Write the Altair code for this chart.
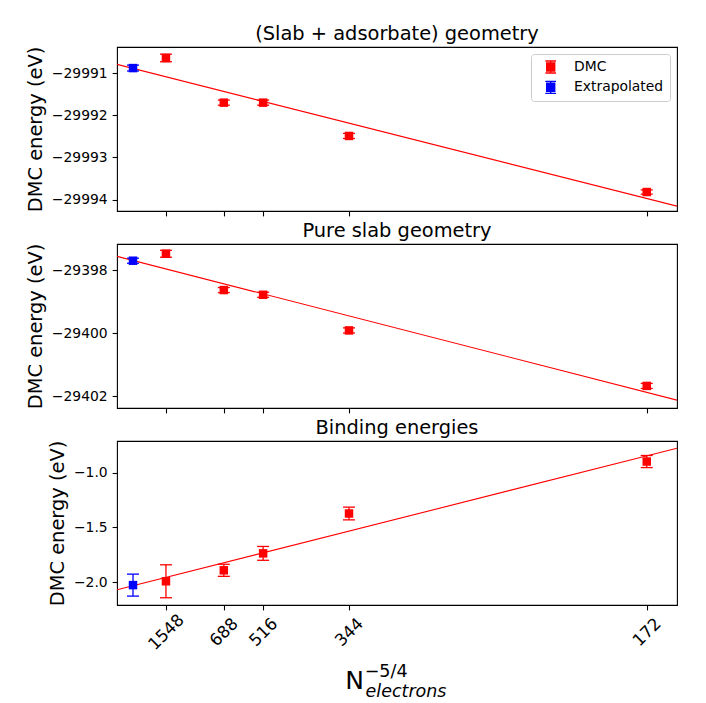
import altair as alt
import pandas as pd

FONT = "DejaVu Sans"

# ---------------- data ----------------
N_ELECTRONS = [1548, 688, 516, 344, 172]
X_DOMAIN = [-0.00005, 0.0017]

TITLES = ["(Slab + adsorbate) geometry", "Pure slab geometry", "Binding energies"]
Y_TITLE = "DMC energy (eV)"
LEGEND_LABELS = ["DMC", "Extrapolated"]
COLORS = ["#ff0000", "#0000ff"]

ADS_DMC = [-29990.64, -29991.70, -29991.70, -29992.49, -29993.82]
ADS_ERR = [0.09, 0.06, 0.06, 0.06, 0.05]
ADS_EXTRAP = -29990.88
ADS_EXTRAP_ERR = 0.07

SLAB_DMC = [-29397.48, -29398.63, -29398.78, -29399.91, -29401.67]
SLAB_ERR = [0.11, 0.08, 0.08, 0.08, 0.08]
SLAB_EXTRAP = -29397.70
SLAB_EXTRAP_ERR = 0.08

BIND_DMC = [-1.99, -1.89, -1.736, -1.373, -0.90]
BIND_ERR = [0.15, 0.055, 0.063, 0.058, 0.055]
BIND_EXTRAP = -2.025
BIND_EXTRAP_ERR = 0.10

Y_DOMAINS = [[-29994.27, -29990.38], [-29402.37, -29397.17], [-2.206, -0.713]]
Y_TICKS = [[-29994, -29993, -29992, -29991], [-29402, -29400, -29398], [-2.0, -1.5, -1.0]]
Y_FORMATS = ["d", "d", ".1f"]

X_LABEL_MAIN = "N"
X_LABEL_SUP = "\u22125/4"
X_LABEL_SUB = "electrons"

# ---------------- helpers ----------------
X_TICKS = [n ** -1.25 for n in N_ELECTRONS]


def panel_frame(dmc, err, ext, ext_err):
    xs = X_TICKS + [0.0]
    ys = list(dmc) + [ext]
    es = list(err) + [ext_err]
    kinds = [LEGEND_LABELS[0]] * len(dmc) + [LEGEND_LABELS[1]]
    return pd.DataFrame({
        "x": xs,
        "y": ys,
        "lo": [y - e for y, e in zip(ys, es)],
        "hi": [y + e for y, e in zip(ys, es)],
        "kind": kinds,
    })


CSCALE = alt.Scale(domain=LEGEND_LABELS, range=COLORS)

# errorbar-style legend glyph built only from filled rectangles
SYMBOL_PATH = ("M0.286,-0.671H1.628V0.671H0.286Z "
               "M0.864,-0.95H1.05V0.95H0.864Z "
               "M0.193,-0.95H1.721V-0.764H0.193Z "
               "M0.193,0.764H1.721V0.95H0.193Z")

LEGEND = alt.Legend(
    title=None, orient="top-right", offset=7, padding=6,
    fillColor="rgba(255,255,255,0.8)", strokeColor="#cccccc", cornerRadius=3,
    symbolType=SYMBOL_PATH, symbolSize=196, symbolStrokeWidth=0, symbolOpacity=1,
    labelFont=FONT, labelFontSize=13.9, labelColor="black", labelOffset=23,
    rowPadding=6.3,
)


def make_panel(df, title, ydomain, yticks, yfmt, bottom=False, legend=None):
    if bottom:
        xaxis = alt.Axis(
            values=X_TICKS, title=None,
            labelExpr="format(round(pow(datum.value, -0.8)), 'd')",
            labelAngle=315, labelAlign="center", labelBaseline="middle",
            labelFontSize=16.7, labelPadding=22, labelOverlap=False, labelFlush=False,
        )
    else:
        xaxis = alt.Axis(values=X_TICKS, title=None, labels=False)
    yaxis = alt.Axis(values=yticks, format=yfmt, title=Y_TITLE)
    xsc = alt.Scale(domain=X_DOMAIN, nice=False, zero=False)
    ysc = alt.Scale(domain=ydomain, nice=False, zero=False)

    def X(f):
        return alt.X(f"{f}:Q", scale=xsc, axis=xaxis)

    def Y(f):
        return alt.Y(f"{f}:Q", scale=ysc, axis=yaxis)

    col = alt.Color("kind:N", scale=CSCALE, legend=legend)
    base = alt.Chart(df)

    fit = (base.transform_filter(alt.datum.kind == LEGEND_LABELS[0])
           .transform_regression("x", "y", method="linear", extent=X_DOMAIN)
           .mark_line(color=COLORS[0], strokeWidth=1.1, clip=True)
           .encode(x=X("x"), y=Y("y")))
    bars = base.mark_rule(strokeWidth=1.3).encode(x=X("x"), y=Y("lo"), y2="hi:Q", color=col)
    cap_lo = base.mark_tick(orient="horizontal", size=12, thickness=1.3, opacity=1).encode(
        x=X("x"), y=Y("lo"), color=col)
    cap_hi = base.mark_tick(orient="horizontal", size=12, thickness=1.3, opacity=1).encode(
        x=X("x"), y=Y("hi"), color=col)
    pts = base.mark_point(shape="square", filled=True, size=72, opacity=1).encode(
        x=X("x"), y=Y("y"), color=col)
    layers = [fit, bars, cap_lo, cap_hi, pts]

    if bottom:
        one = pd.DataFrame({"k": [0]})
        t_main = alt.Chart(one).mark_text(
            text=X_LABEL_MAIN, font=FONT, fontSize=25, align="left",
            baseline="alphabetic", color="black").encode(x=alt.value(228.3), y=alt.value(248.3))
        t_sup = alt.Chart(one).mark_text(
            text=X_LABEL_SUP, font=FONT, fontSize=17.5, align="left",
            baseline="alphabetic", color="black").encode(x=alt.value(247.7), y=alt.value(236.3))
        t_sub = alt.Chart(one).mark_text(
            text=X_LABEL_SUB, font=FONT, fontSize=17.5, fontStyle="italic", align="left",
            baseline="alphabetic", color="black").encode(x=alt.value(248.5), y=alt.value(256.3))
        layers += [t_main, t_sup, t_sub]

    return alt.layer(*layers).properties(width=560, height=164, title=alt.TitleParams(title))


top = make_panel(panel_frame(ADS_DMC, ADS_ERR, ADS_EXTRAP, ADS_EXTRAP_ERR),
                 TITLES[0], Y_DOMAINS[0], Y_TICKS[0], Y_FORMATS[0], legend=LEGEND)
mid = make_panel(panel_frame(SLAB_DMC, SLAB_ERR, SLAB_EXTRAP, SLAB_EXTRAP_ERR),
                 TITLES[1], Y_DOMAINS[1], Y_TICKS[1], Y_FORMATS[1])
bot = make_panel(panel_frame(BIND_DMC, BIND_ERR, BIND_EXTRAP, BIND_EXTRAP_ERR),
                 TITLES[2], Y_DOMAINS[2], Y_TICKS[2], Y_FORMATS[2], bottom=True)

chart = (
    alt.vconcat(top, mid, bot, spacing=33, bounds="flush")
    .resolve_scale(color="independent")
    .resolve_legend(color="independent")
    .properties(padding={"top": 15, "left": 17, "right": 5, "bottom": 0})
    .configure_view(stroke="black", strokeWidth=1.1)
    .configure_axis(
        domain=False, grid=False, tickColor="black", tickSize=4.9, tickWidth=1.1,
        labelFont=FONT, labelFontSize=13.9, labelColor="black", labelPadding=4.9,
        titleFont=FONT, titleFontSize=19.4, titleFontWeight="normal", titleColor="black",
        titlePadding=5.6,
    )
    .configure_title(font=FONT, fontSize=19.4, fontWeight="normal", color="black",
                     anchor="middle", frame="group", baseline="alphabetic", offset=2)
)

chart.save("out.html", embed_options={"renderer": "svg", "actions": False})
